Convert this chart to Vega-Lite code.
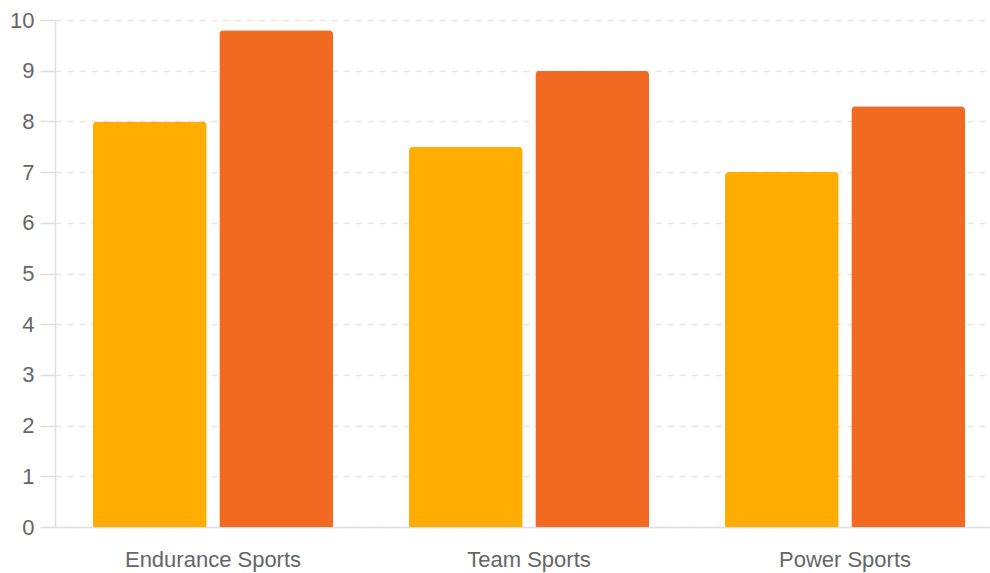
{
  "$schema": "https://vega.github.io/schema/vega-lite/v6.json",
  "width": 948,
  "height": 507,
  "autosize": {"type": "none"},
  "padding": {"left": 55, "top": 20, "right": 0, "bottom": 46},
  "background": "white",
  "data": {
    "values": [
      {"category": "Endurance Sports", "series": "Group 1", "value": 8.0},
      {"category": "Endurance Sports", "series": "Group 2", "value": 9.8},
      {"category": "Team Sports", "series": "Group 1", "value": 7.5},
      {"category": "Team Sports", "series": "Group 2", "value": 9.0},
      {"category": "Power Sports", "series": "Group 1", "value": 7.0},
      {"category": "Power Sports", "series": "Group 2", "value": 8.3}
    ]
  },
  "mark": {"type": "bar", "cornerRadiusTopLeft": 4, "cornerRadiusTopRight": 4},
  "encoding": {
    "x": {
      "field": "category",
      "type": "nominal",
      "sort": ["Endurance Sports", "Team Sports", "Power Sports"],
      "scale": {"paddingInner": 0.2, "paddingOuter": 0.1},
      "axis": {
        "title": null,
        "labelAngle": 0,
        "labelFont": "Liberation Sans",
        "labelFontSize": 22,
        "labelColor": "#666666",
        "labelPadding": 22,
        "ticks": false,
        "domainColor": "#e0e0e0",
        "domainWidth": 1.5,
        "grid": false
      }
    },
    "xOffset": {
      "field": "series",
      "type": "nominal",
      "scale": {"paddingInner": 0.1, "paddingOuter": 0.05}
    },
    "y": {
      "field": "value",
      "type": "quantitative",
      "scale": {"domain": [0, 10], "nice": false},
      "axis": {
        "title": null,
        "values": [0, 1, 2, 3, 4, 5, 6, 7, 8, 9, 10],
        "labelFont": "Liberation Sans",
        "labelFontSize": 22,
        "labelColor": "#666666",
        "labelPadding": 6,
        "labelOverlap": false,
        "ticks": true,
        "tickSize": 15,
        "tickColor": "#dddddd",
        "tickWidth": 1.5,
        "domainColor": "#e0e0e0",
        "domainWidth": 1.5,
        "grid": true,
        "gridColor": "#e6e6e6",
        "gridDash": [6, 6],
        "gridWidth": 1.5
      }
    },
    "color": {
      "field": "series",
      "type": "nominal",
      "scale": {"domain": ["Group 1", "Group 2"], "range": ["#FFAD00", "#F26A21"]},
      "legend": null
    }
  },
  "config": {"view": {"stroke": null}}
}
